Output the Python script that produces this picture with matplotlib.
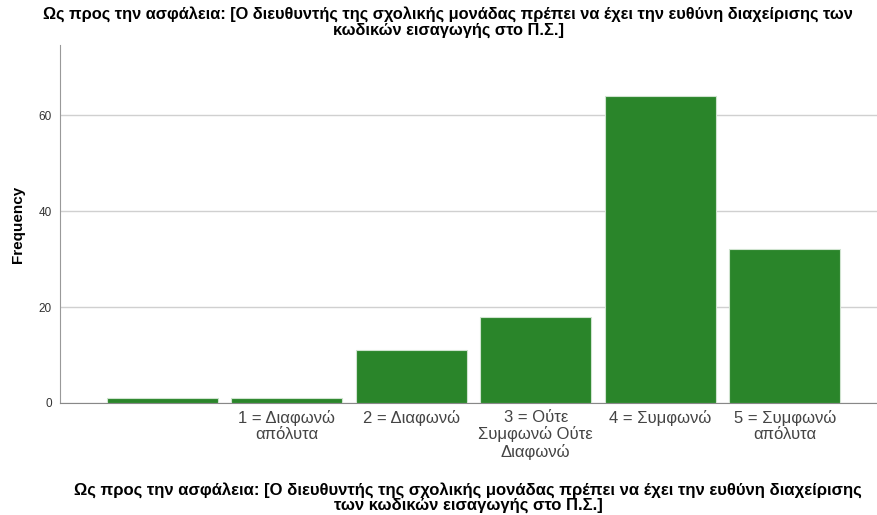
import matplotlib.pyplot as plt
import numpy as np

plt.rcParams['font.family'] = ['Liberation Sans', 'DejaVu Sans']

categories = ['', '1 = Διαφωνώ\nαπόλυτα', '2 = Διαφωνώ', '3 = Ούτε\nΣυμφωνώ Ούτε\nΔιαφωνώ',
              '4 = Συμφωνώ', '5 = Συμφωνώ\nαπόλυτα']
frequency = [1, 1, 11, 18, 64, 32]
yticks = [0, 20, 40, 60]

title = ('Ως προς την ασφάλεια: [Ο διευθυντής της σχολικής μονάδας πρέπει να έχει την ευθύνη διαχείρισης των\n'
         'κωδικών εισαγωγής στο Π.Σ.]')
xlabel = ('Ως προς την ασφάλεια: [Ο διευθυντής της σχολικής μονάδας πρέπει να έχει την ευθύνη διαχείρισης\n'
          'των κωδικών εισαγωγής στο Π.Σ.]')

fig = plt.figure(figsize=(8.77, 5.15), dpi=100)
ax = fig.add_axes([0.0684, 0.2175, 0.9316, 0.6951])

x = np.arange(len(categories))
ax.bar(x, frequency, width=0.89, color='#2a852a', edgecolor='#cfe3cf', linewidth=0.8, zorder=3)

ax.set_xlim(-0.82, 5.74)
ax.set_ylim(0, 74.6)
ax.set_yticks(yticks)
ax.set_xticks(x)
ax.set_xticklabels(categories, fontsize=12, color='#444444', linespacing=1.1)
ax.tick_params(axis='y', labelsize=8.5, colors='#333333', length=0, pad=6)
ax.tick_params(axis='x', length=0, pad=5)
ax.yaxis.grid(True, color='#d0d0d0', linewidth=1, zorder=0)

for s in ['top', 'right']:
    ax.spines[s].set_visible(False)
ax.spines['left'].set_color('#999999')
ax.spines['bottom'].set_color('#888888')

ax.set_ylabel('Frequency', fontsize=11, fontweight='bold', labelpad=10)
fig.text(0.511, 0.988, title, ha='center', va='top', fontsize=11.8, fontweight='bold', linespacing=1.05)
fig.text(0.534, 0.003, xlabel, ha='center', va='bottom', fontsize=12, fontweight='bold', linespacing=1.05)

fig.savefig('out.png', dpi=100)
